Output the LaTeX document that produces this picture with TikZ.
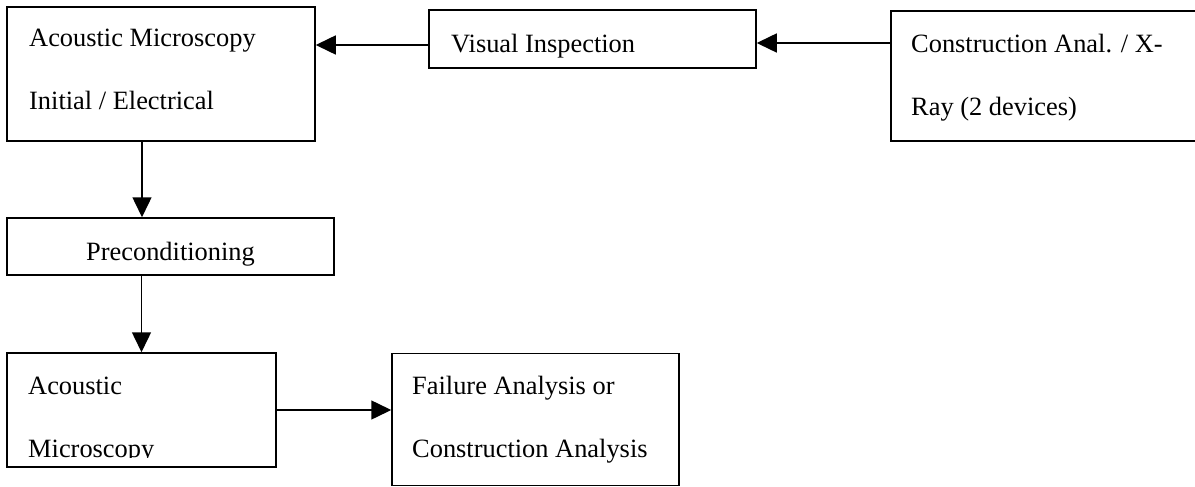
\documentclass[tikz,border=0pt]{standalone}
\usepackage{fontspec}
\setmainfont{Liberation Serif}
\usetikzlibrary{arrows.meta}
\begin{document}
\begin{tikzpicture}[x=1pt,y=-1pt,
  box/.style={draw,line width=1.5pt,inner sep=0pt},
  lbl/.style={anchor=base west,inner sep=0pt,font=\fontsize{26.4}{30}\selectfont},
  arr/.style={line width=1.5pt,-{Triangle[length=20pt,width=19pt]}}]
\useasboundingbox (0,0) rectangle (1195,487);
% boxes
\node[box,minimum width=308pt,minimum height=134pt] (A) at (161,74) {};
\node[box,minimum width=327pt,minimum height=58pt] (V) at (592.5,39) {};
\node[box,minimum width=319pt,minimum height=130pt] (C) at (1050.5,76) {};
\node[box,minimum width=327pt,minimum height=57pt] (P) at (170.5,246.5) {};
\node[box,minimum width=269pt,minimum height=114pt] (M) at (141.5,410) {};
\node[box,minimum width=287pt,minimum height=132pt] (F) at (535.5,419.5) {};
% texts
\node[lbl] (tA1) at (29,47) {Acoustic Microscopy};
\node[lbl] (tA2) at (29,110) {Initial / Electrical};
\node[lbl] (tV) at (451,53) {Visual Inspection};
\node[lbl] (tC1) at (911,53) {Construction Anal. / X-};
\node[lbl] (tC2) at (911,115) {Ray (2 devices)};
\node[lbl,anchor=base] (tP) at (170.5,260) {Preconditioning};
\node[lbl] (tM1) at (28,394) {Acoustic};
\begin{scope}
\clip (M.north west) rectangle ([yshift=10pt]M.south east);
\node[lbl] (tM2) at (28,457) {Microscopy};
\end{scope}
\node[lbl] (tF1) at (412,394) {Failure Analysis or};
\node[lbl] (tF2) at (412,457) {Construction Analysis};
% connectors
\draw[arr] ([yshift=-6pt]V.west) -- ([yshift=-6pt]V.west -| A.east);
\draw[arr] ([yshift=-4pt]V.east -| C.west) -- ([yshift=-4pt]V.east);
\draw[arr] ([xshift=-19pt]A.south) -- ([xshift=-19pt]A.south |- P.north);
\draw[arr] (P.south -| M.north) -- (M.north);
\draw[arr] (M.east) -- (M.east -| F.west);
\end{tikzpicture}
\end{document}
